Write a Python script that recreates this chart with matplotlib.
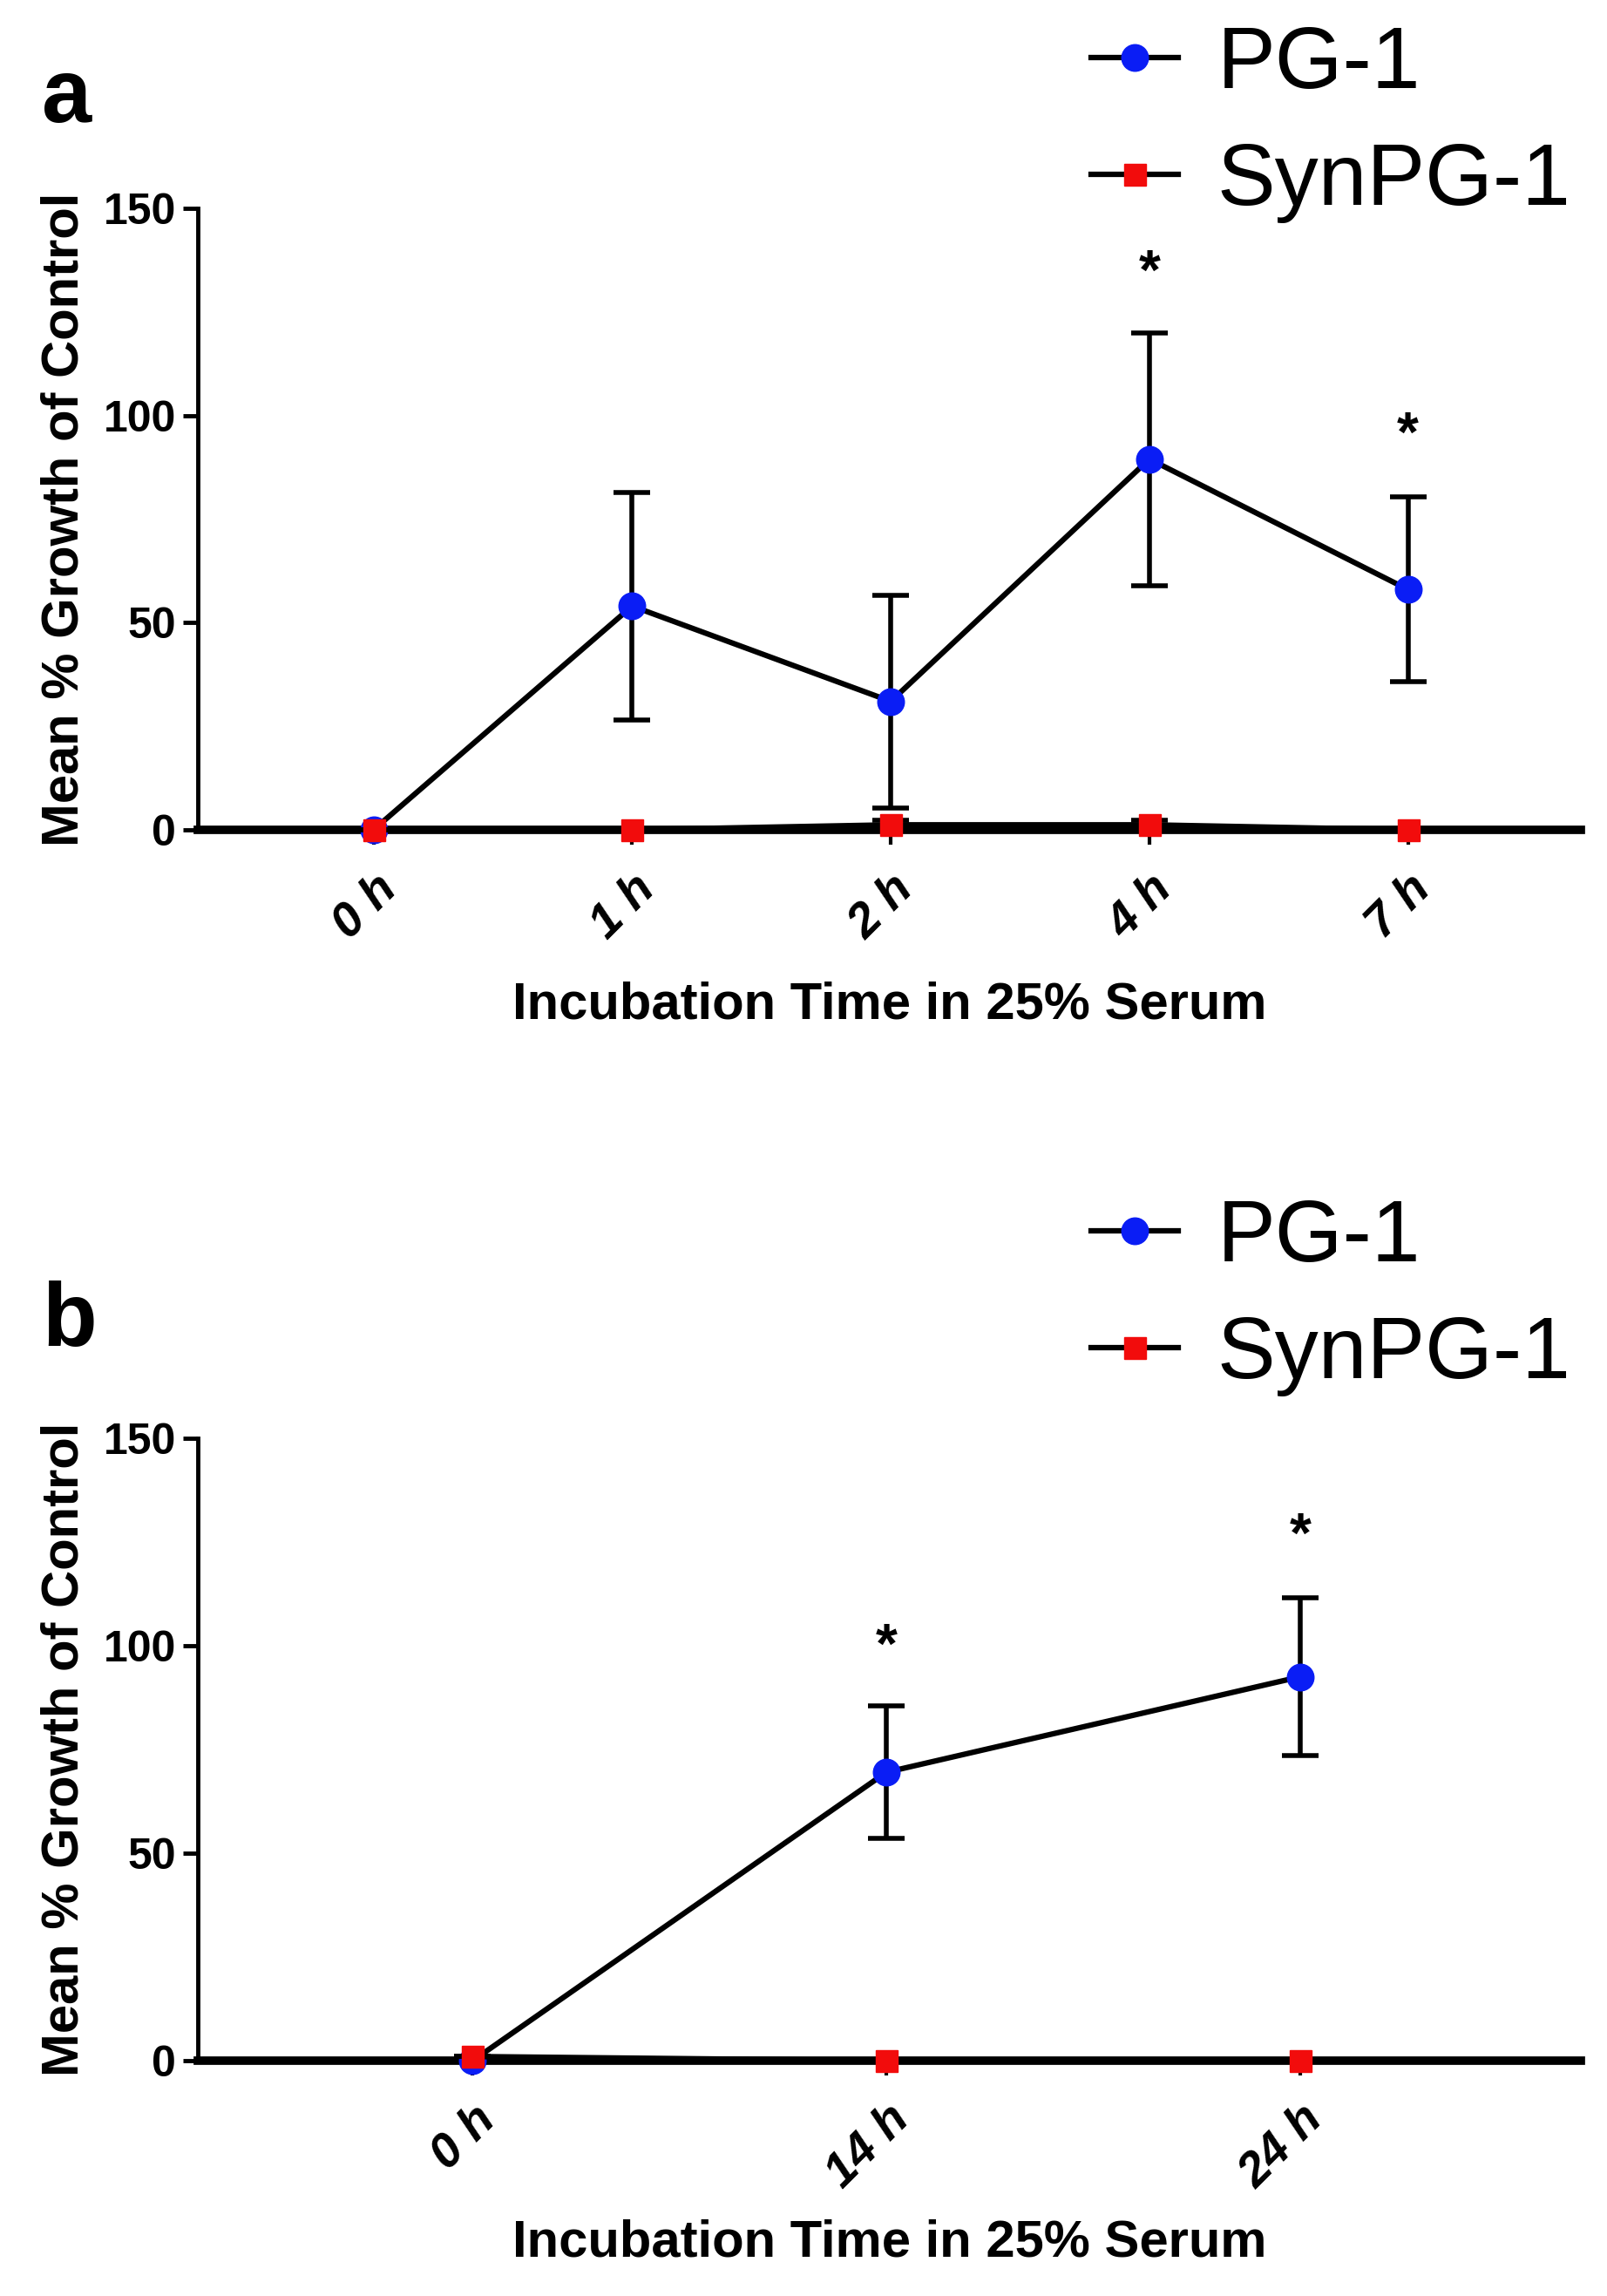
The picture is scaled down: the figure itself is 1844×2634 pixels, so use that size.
import numpy as np
import matplotlib
matplotlib.use('Agg')
import matplotlib.pyplot as plt

plt.rcParams['font.family'] = ['Liberation Sans Narrow', 'Liberation Sans', 'DejaVu Sans']

# panel a
times_a = ['0 h', '1 h', '2 h', '4 h', '7 h']
pg1_a = [0, 54, 31, 89.5, 58]
pg1_a_err = [0, 27.5, 25.7, 30.5, 22.3]
syn_a = [0, 0, 1.2, 1.2, 0]
syn_a_err = [0, 0, 1.0, 1.0, 0]
star_a = [(3, 134), (4, 95)]

# panel b
times_b = ['0 h', '14 h', '24 h']
pg1_b = [0, 69.5, 92.5]
pg1_b_err = [0, 16, 19]
syn_b = [1, 0, 0]
syn_b_err = [0, 0, 0]
star_b = [(1, 99.5), (2, 126)]

fig = plt.figure(figsize=(18.44, 26.34), dpi=100)


def panel(rect, labels, pg, pg_err, syn, syn_err, stars, xlim, letter, letter_y, leg_y, xpad):
    ax = fig.add_axes(rect)
    x = np.arange(len(labels))
    ax.errorbar(x, pg, yerr=pg_err, color='black', lw=4.5, capsize=15, capthick=4,
                elinewidth=4, marker='o', ms=22, mfc='#0a1df5', mec='#0a1df5',
                label='PG-1', clip_on=False, zorder=3)
    ax.errorbar(x, syn, yerr=syn_err, color='black', lw=4.5, capsize=15, capthick=4,
                elinewidth=4, marker='s', ms=18, mfc='#f20c0c', mec='#f20c0c',
                label='SynPG-1', clip_on=False, zorder=4)
    for xi, yi in stars:
        ax.text(xi, yi, '*', ha='center', va='center', fontsize=46, fontweight='bold')
    ax.set_xlim(*xlim)
    ax.set_ylim(0, 150)
    ax.set_yticks([0, 50, 100, 150])
    ax.set_xticks(x)
    ax.set_xticklabels(labels, rotation=45, ha='right', rotation_mode='anchor',
                       fontsize=40, fontweight='bold', fontstyle='italic')
    for t in ax.get_yticklabels():
        t.set_fontsize(36)
        t.set_fontweight('bold')
    for s in ['top', 'right']:
        ax.spines[s].set_visible(False)
    ax.spines['left'].set_linewidth(3.5)
    ax.spines['bottom'].set_linewidth(7)
    ax.tick_params(axis='y', length=12, width=3.5, pad=6)
    ax.tick_params(axis='x', length=12, width=3, pad=18)
    ax.set_ylabel('Mean % Growth of Control', fontsize=43, fontweight='bold',
                  family=['Liberation Sans', 'DejaVu Sans'], labelpad=12)
    ax.set_xlabel('Incubation Time in 25% Serum', fontsize=43, fontweight='bold', labelpad=xpad)
    fig.text(0.026, letter_y, letter, fontsize=74, fontweight='bold',
             family=['Liberation Sans', 'DejaVu Sans'], va='center')
    h, l = ax.get_legend_handles_labels()
    h = [hh[0] for hh in h]
    fig.legend(h, l, loc='center left', bbox_to_anchor=(0.63, leg_y), frameon=False,
               handlelength=1.0, handletextpad=0.45, labelspacing=0.4,
               prop={'family': ['Liberation Sans', 'DejaVu Sans'], 'size': 72})
    return ax


panel([0.123, 0.6386, 0.861, 0.2706], times_a, pg1_a, pg1_a_err, syn_a, syn_a_err,
      star_a, (-0.68, 4.67), 'a', 0.957, 0.946, 28)
panel([0.123, 0.1025, 0.861, 0.2711], times_b, pg1_b, pg1_b_err, syn_b, syn_b_err,
      star_b, (-0.665, 2.68), 'b', 0.424, 0.435, 18)

fig.savefig('out.png', dpi=100)
